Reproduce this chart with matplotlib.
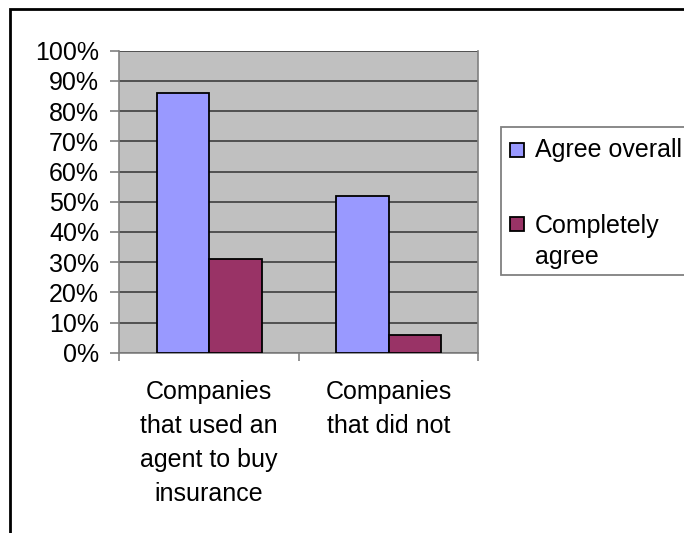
import matplotlib
matplotlib.use("Agg")
import matplotlib.pyplot as plt
from matplotlib.patches import Rectangle
from matplotlib.ticker import PercentFormatter, FixedLocator

# ── data ─────────────────────────────────────────────────────────────────────
categories = ["Companies\nthat used an\nagent to buy\ninsurance", "Companies\nthat did not"]
series_names = ["Agree overall", "Completely\nagree"]
agree_overall = [0.86, 0.52]
completely_agree = [0.31, 0.06]
colors = ["#9999FF", "#993366"]

plt.rcParams["font.family"] = ["Liberation Sans", "DejaVu Sans"]
FS = 18

W, H = 684, 533
fig = plt.figure(figsize=(W / 100, H / 100), dpi=100)
fig.patch.set_facecolor("white")

# plot area (pixel measurements from reference)
ax = fig.add_axes([119.3 / W, 1 - 352.7 / H, (478.3 - 119.3) / W, (352.7 - 50.7) / H])
ax.set_facecolor("#C0C0C0")

width = 0.2925
centers = [0.5 + i for i in range(len(categories))]
ax.bar([c - width / 2 for c in centers], agree_overall, width, color=colors[0],
       edgecolor="black", linewidth=1.3, zorder=3)
ax.bar([c + width / 2 for c in centers], completely_agree, width, color=colors[1],
       edgecolor="black", linewidth=1.3, zorder=3)

ax.set_xlim(0, len(categories))
ax.set_ylim(0, 1)
ax.set_yticks([i / 10 for i in range(11)])
ax.yaxis.set_major_formatter(PercentFormatter(1.0, decimals=0))
ax.yaxis.grid(True, color="#333333", linewidth=1.1, zorder=1)
ax.set_axisbelow(True)

ax.xaxis.set_major_locator(FixedLocator(range(len(categories) + 1)))
ax.xaxis.set_major_formatter(plt.NullFormatter())
ax.xaxis.set_minor_locator(FixedLocator(centers))
ax.set_xticklabels(categories, minor=True, fontsize=FS, linespacing=1.52)
ax.tick_params(axis="x", which="minor", length=0, pad=20)
ax.tick_params(axis="x", which="major", length=6, color="#808080", width=1.2)
ax.tick_params(axis="y", length=6.5, color="#808080", width=1.2, pad=8, labelsize=FS)

for side in ["left", "bottom", "right"]:
    ax.spines[side].set_color("#808080")
    ax.spines[side].set_linewidth(1.2)
ax.spines["top"].set_visible(False)

# legend box drawn by hand so the two-line entry lines up like the original
fig.add_artist(Rectangle((501 / W, 1 - 275 / H), 200 / W, (275 - 126.7) / H,
                         transform=fig.transFigure, facecolor="white",
                         edgecolor="#808080", linewidth=1.3, clip_on=False))
legend_rows = [149.5, 224.5]
for name, col, yp in zip(series_names, colors, legend_rows):
    fig.add_artist(Rectangle((510 / W, 1 - (yp + 7) / H), 14 / W, 14 / H,
                             transform=fig.transFigure, facecolor=col,
                             edgecolor="black", linewidth=1.3))
    fig.text(535 / W, 1 - (yp - 11) / H, name, fontsize=FS, va="top", ha="left",
             linespacing=1.38)

# outer chart border (only top and left edges fall inside the image)
fig.add_artist(Rectangle((9.5 / W, -0.2), 1.2, 1.2 - 9 / H,
                         transform=fig.transFigure, facecolor="none",
                         edgecolor="black", linewidth=2, clip_on=False))

fig.savefig("out.png", dpi=100)
